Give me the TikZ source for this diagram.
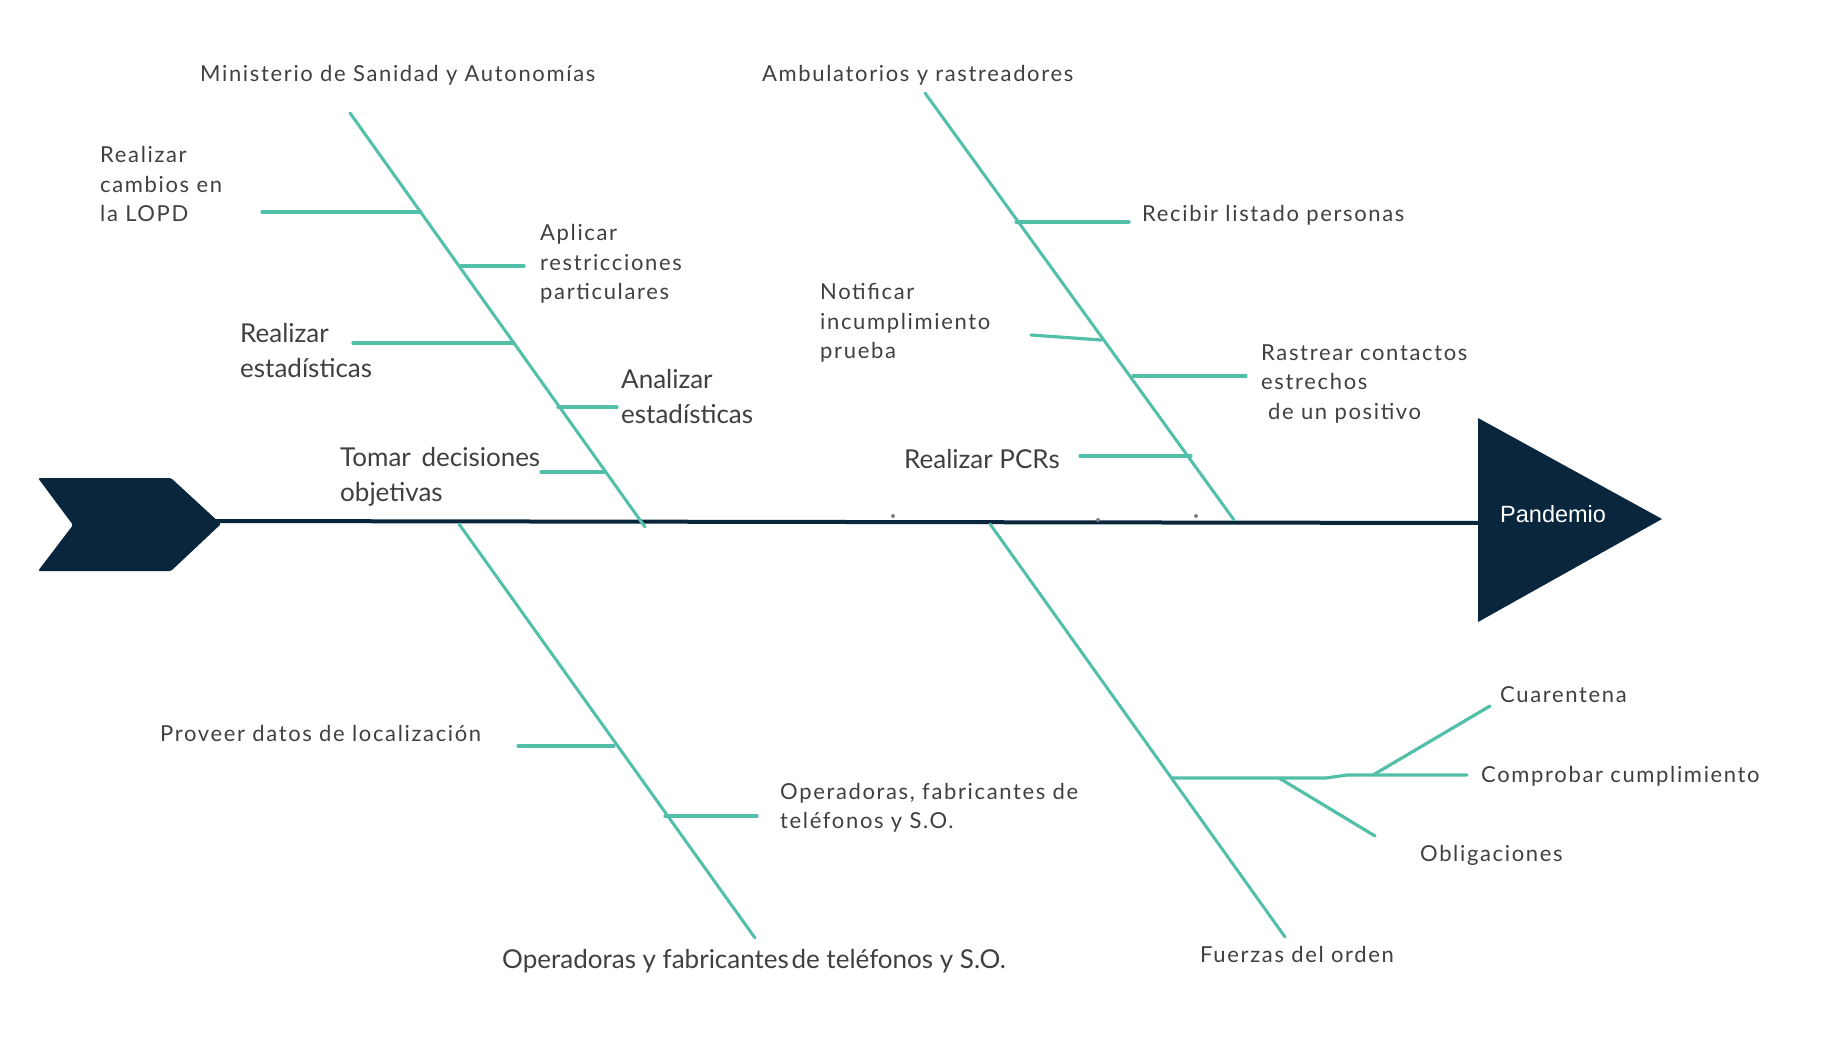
\documentclass[tikz,border=0pt]{standalone}
\usepackage{fontspec}
\newfontfamily\smallf[LetterSpace=7.5]{Lato}
\newfontfamily\bigf{Lato}
\newfontfamily\headf{Liberation Sans}
\definecolor{teal}{HTML}{52C0A8}
\definecolor{navy}{HTML}{0A263D}
\definecolor{txt}{HTML}{404040}
\tikzset{
  bone/.style={draw=teal, line width=3.2pt, line cap=round},
  spine/.style={draw=teal, line width=3pt, line cap=round},
  smalltxt/.style={font=\smallf\fontsize{22}{29.5}\selectfont, text=txt, align=left, inner sep=0pt},
  bigtxt/.style={font=\bigf\fontsize{26}{35}\selectfont, text=txt, align=left, inner sep=0pt},
  dotmark/.style={fill=gray, draw=none, circle, inner sep=0pt, minimum size=4pt}
}
\begin{document}
\begin{tikzpicture}[x=1pt, y=-1pt]
\useasboundingbox (0,0) rectangle (1846,1040);
\fill[white] (0,0) rectangle (1846,1040);

% head and tail
\fill[navy, rounded corners=1.5pt] (38,478) -- (171,478) -- (221,524) -- (171,571) -- (38,571) -- (73,525) -- cycle;
\coordinate (tailtip) at (215,521);
\node[fill=navy, inner sep=0pt, minimum size=0pt] (headpt) at (1480,523) {};
\fill[navy] (1478,418) -- (1662,519) -- (1478,622) -- cycle;
\draw[navy, line width=4pt] (tailtip) -- (headpt);
\node[font=\headf\fontsize{23.5}{28}\selectfont, text=white, anchor=base west, inner sep=0pt] (pand) at (1500,522) {Pandemio};

% small dots on the spine
\node[dotmark] (d1) at (893,516) {};
\node[dotmark] (d2) at (1098,520) {};
\node[dotmark] (d3) at (1196,516) {};

% ---- spine 1: Ministerio
\coordinate (s1a) at (350,113);
\coordinate (s1b) at (645,527);
\draw[spine] (s1a) -- (s1b);
\node[smalltxt, anchor=base west] (minis) at (200,82) {Ministerio de Sanidad y Autonomías};
\node[smalltxt, anchor=west] (lopd) at (100,184) {Realizar\\cambios en\\la LOPD};
\node[smalltxt, anchor=west] (aplic) at (540,264) {Aplicar\\restricciones\\particulares};
\node[bigtxt, anchor=west] (restad) at (240,351) {Realizar\\estadísticas};
\node[bigtxt, anchor=west] (analiz) at (621,397) {Analizar\\estadísticas};
\node[bigtxt, anchor=west] (tomar) at (340,477) {Tomar\hspace{4pt} decisiones\\objetivas};
\coordinate (b1a) at (262,212); \coordinate (b1b) at (421,212);
\coordinate (b2a) at (461,266); \coordinate (b2b) at (524,266);
\coordinate (b3a) at (353,343); \coordinate (b3b) at (514,343);
\coordinate (b4a) at (558,407); \coordinate (b4b) at (617,407);
\coordinate (b5a) at (541,472); \coordinate (b5b) at (604,472);
\draw[bone] (b1a) -- (b1b);
\draw[bone] (b2a) -- (b2b);
\draw[bone] (b3a) -- (b3b);
\draw[bone] (b4a) -- (b4b);
\draw[bone] (b5a) -- (b5b);

% ---- spine 2: Ambulatorios
\coordinate (s2a) at (925,93);
\coordinate (s2b) at (1234,520);
\draw[spine] (s2a) -- (s2b);
\node[smalltxt, anchor=base west] (ambul) at (762,82) {Ambulatorios y rastreadores};
\node[smalltxt, anchor=base west] (recib) at (1142,222) {Recibir listado personas};
\node[smalltxt, anchor=west] (notif) at (820,323) {Notificar\\incumplimiento\\prueba};
\node[smalltxt, anchor=west] (rastr) at (1261,384) {Rastrear contactos\\estrechos\\\hspace*{7pt}de un positivo};
\node[bigtxt, anchor=base west] (pcr) at (904,468) {Realizar PCRs};
\coordinate (c1a) at (1016,222); \coordinate (c1b) at (1129,222);
\coordinate (c2a) at (1031,335); \coordinate (c2b) at (1101,340);
\coordinate (c3a) at (1133,376); \coordinate (c3b) at (1246,376);
\coordinate (c4a) at (1080,456); \coordinate (c4b) at (1191,456);
\draw[bone] (c1a) -- (c1b);
\draw[bone] (c2a) -- (c2b);
\draw[bone] (c3a) -- (c3b);
\draw[bone] (c4a) -- (c4b);

% ---- spine 3: Operadoras
\coordinate (s3a) at (459,524);
\coordinate (s3b) at (755,938);
\draw[spine] (s3a) -- (s3b);
\node[smalltxt, anchor=base west] (prov) at (160,741) {Proveer datos de localización};
\node[smalltxt, anchor=west] (opfab) at (780,808) {Operadoras, fabricantes de\\teléfonos y S.O.};
\node[bigtxt, anchor=base west] (opbot) at (502,968) {Operadoras y fabricantes\hspace{-4pt} de teléfonos y S.O.};
\coordinate (e1a) at (518,746); \coordinate (e1b) at (614,746);
\coordinate (e2a) at (665,816); \coordinate (e2b) at (757,816);
\draw[bone] (e1a) -- (e1b);
\draw[bone] (e2a) -- (e2b);

% ---- spine 4: Fuerzas del orden
\coordinate (s4a) at (990,524);
\coordinate (s4b) at (1285,937);
\draw[spine] (s4a) -- (s4b);
\node[smalltxt, anchor=base west] (fuerz) at (1200,962) {Fuerzas del orden};
\node[smalltxt, anchor=base west] (cuar) at (1500,702) {Cuarentena};
\node[smalltxt, anchor=base west] (compr) at (1481,782) {Comprobar cumplimiento};
\node[smalltxt, anchor=base west] (oblig) at (1420,861) {Obligaciones};
\coordinate (f1) at (1172,778);
\coordinate (f2) at (1279,778);
\coordinate (f3) at (1326,778);
\coordinate (f4) at (1347,775);
\coordinate (f5) at (1373,775);
\coordinate (f6) at (1467,775);
\coordinate (fc) at (1490,706);
\coordinate (fo) at (1375,836);
\draw[bone, line join=round] (f1) -- (f3) -- (f4) -- (f6);
\draw[bone] (f5) -- (fc);
\draw[bone] (f2) -- (fo);
\end{tikzpicture}
\end{document}
